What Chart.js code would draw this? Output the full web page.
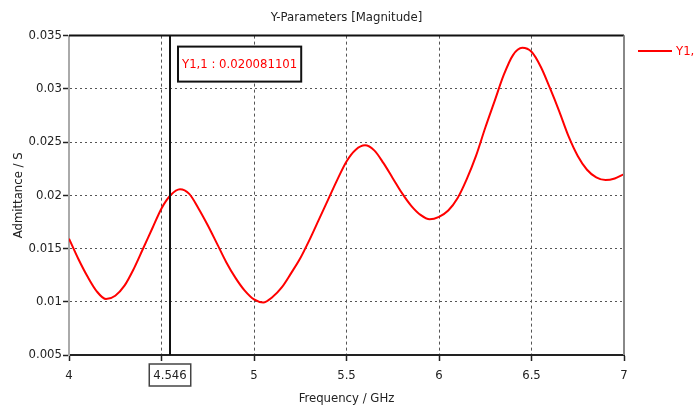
<!DOCTYPE html>
<html>
<head>
<meta charset="utf-8">
<script src="https://cdn.jsdelivr.net/npm/chart.js@4"></script>
<style>
  html, body { margin: 0; padding: 0; background: #fff; }
  #wrap { width: 694px; height: 412px; }
</style>
</head>
<body>
<div id="wrap"><canvas id="chart"></canvas></div>
<script>
// frequency points (GHz), one every 0.05 GHz
const freqGHz = [
  4.00, 4.05, 4.10, 4.15, 4.20, 4.25, 4.30, 4.35, 4.40, 4.45,
  4.50, 4.55, 4.60, 4.65, 4.70, 4.75, 4.80, 4.85, 4.90, 4.95,
  5.00, 5.05, 5.10, 5.15, 5.20, 5.25, 5.30, 5.35, 5.40, 5.45,
  5.50, 5.55, 5.60, 5.65, 5.70, 5.75, 5.80, 5.85, 5.90, 5.95,
  6.00, 6.05, 6.10, 6.15, 6.20, 6.25, 6.30, 6.35, 6.40, 6.45,
  6.50, 6.55, 6.60, 6.65, 6.70, 6.75, 6.80, 6.85, 6.90, 6.95, 7.00
];
// |Y1,1| in S
const y11 = [
  0.01593, 0.01404, 0.01237, 0.01098, 0.01025, 0.01057, 0.01151, 0.01309, 0.01498, 0.01688,
  0.01877, 0.02003, 0.02057, 0.02013, 0.01877, 0.01719, 0.01546, 0.01372, 0.01224, 0.01104,
  0.01022, 0.00994, 0.01045, 0.01135, 0.01267, 0.01408, 0.01581, 0.01769, 0.01957, 0.02145,
  0.02318, 0.02428, 0.02469, 0.02422, 0.02302, 0.02161, 0.02020, 0.01901, 0.01816, 0.01775,
  0.01798, 0.01857, 0.01972, 0.02152, 0.02370, 0.02634, 0.02882, 0.03130, 0.03317, 0.03385,
  0.03348, 0.03208, 0.03006, 0.02789, 0.02556, 0.02370, 0.02240, 0.02168, 0.02143, 0.02158, 0.02199
];
const xTicks = [4, 4.5, 5, 5.5, 6, 6.5, 7];
const yTicks = [0.005, 0.01, 0.015, 0.02, 0.025, 0.03, 0.035];
const markerFreq = 4.546;
const markerValue = '0.020081101';
const seriesName = 'Y1,1';

const FONT = '"DejaVu Sans Condensed", "Liberation Sans Narrow", sans-serif';
const FS = 13;

// extra drawing: frame, marker, marker labels, legend
const extras = {
  id: 'extras',
  afterDatasetsDraw(chart) {
    const { ctx, chartArea: a, scales: { x } } = chart;
    ctx.save();
    // top + right frame
    ctx.lineWidth = 2;
    ctx.strokeStyle = '#111';
    ctx.beginPath(); ctx.moveTo(a.left, a.top); ctx.lineTo(a.right, a.top); ctx.stroke();
    ctx.strokeStyle = '#888';
    ctx.beginPath(); ctx.moveTo(a.right, a.top); ctx.lineTo(a.right, a.bottom); ctx.stroke();

    // marker line
    const mx = Math.round(x.getPixelForValue(markerFreq));
    ctx.strokeStyle = '#111';
    ctx.beginPath(); ctx.moveTo(mx, a.top); ctx.lineTo(mx, a.bottom); ctx.stroke();

    // marker value box
    ctx.font = FS + 'px ' + FONT;
    const txt = seriesName + ' : ' + markerValue;
    const tw = ctx.measureText(txt).width;
    const bx = mx + 8, by = a.top + 11, bw = tw + 8, bh = 35;
    ctx.fillStyle = '#fff';
    ctx.fillRect(bx, by, bw, bh);
    ctx.strokeStyle = '#111';
    ctx.lineWidth = 2;
    ctx.strokeRect(bx, by, bw, bh);
    ctx.fillStyle = '#ff0000';
    ctx.textBaseline = 'middle';
    ctx.textAlign = 'left';
    ctx.fillText(txt, bx + 4, by + bh / 2 + 1);

    // marker frequency box under the axis
    const ftxt = String(markerFreq);
    const fw = ctx.measureText(ftxt).width;
    ctx.fillStyle = '#fff';
    ctx.fillRect(mx - fw / 2 - 4, a.bottom + 9, fw + 8, 22);
    ctx.strokeStyle = '#444';
    ctx.lineWidth = 1.5;
    ctx.strokeRect(mx - fw / 2 - 4, a.bottom + 9, fw + 8, 22);
    ctx.fillStyle = '#222';
    ctx.textAlign = 'center';
    ctx.fillText(ftxt, mx, a.bottom + 21);

    // legend
    ctx.strokeStyle = '#ff0000';
    ctx.lineWidth = 2;
    ctx.beginPath(); ctx.moveTo(638, 51); ctx.lineTo(672, 51); ctx.stroke();
    ctx.fillStyle = '#ff0000';
    ctx.textAlign = 'left';
    ctx.fillText(seriesName, 676, 52);
    ctx.restore();
  }
};

new Chart(document.getElementById('chart'), {
  type: 'line',
  data: {
    datasets: [{
      label: seriesName,
      data: freqGHz.map((f, i) => ({ x: f, y: y11[i] })),
      borderColor: '#ff0000',
      borderWidth: 2,
      pointRadius: 0,
      cubicInterpolationMode: 'monotone',
      fill: false
    }]
  },
  options: {
    responsive: true,
    maintainAspectRatio: false,
    animation: false,
    layout: { padding: { left: 0, right: 70, top: 0, bottom: 0 } },
    plugins: {
      legend: { display: false },
      tooltip: { enabled: false },
      title: {
        display: true,
        text: 'Y-Parameters [Magnitude]',
        fullSize: false,
        color: '#222',
        font: { family: FONT, size: FS, weight: 'normal' },
        padding: { top: 10, bottom: 10 }
      }
    },
    scales: {
      x: {
        type: 'linear',
        min: 4,
        max: 7,
        afterFit: (s) => { s.height = 57; },
        afterBuildTicks: (s) => { s.ticks = xTicks.map(v => ({ value: v })); },
        ticks: {
          color: '#222',
          font: { family: FONT, size: FS },
          padding: 7,
          maxRotation: 0,
          callback: (v) => (v === 4.5 ? '' : String(v))
        },
        grid: { color: '#555', lineWidth: 1, tickLength: 6, tickColor: '#222', tickWidth: 1.5, borderDash: [3, 3] },
        border: { color: '#222', width: 2, dash: [3, 3] },
        title: {
          display: true,
          text: 'Frequency / GHz',
          color: '#222',
          font: { family: FONT, size: FS },
          padding: { top: 0, bottom: 6 }
        }
      },
      y: {
        min: 0.005,
        max: 0.035,
        afterFit: (s) => { s.width = 69; },
        afterBuildTicks: (s) => { s.ticks = yTicks.map(v => ({ value: v })); },
        ticks: {
          color: '#222',
          font: { family: FONT, size: FS },
          padding: 1,
          callback: (v) => String(parseFloat(v.toFixed(3)))
        },
        grid: { color: '#555', lineWidth: 1, tickLength: 6, tickColor: '#222', tickWidth: 1.5, borderDash: [2, 3] },
        border: { color: '#aaa', width: 2, dash: [2, 3] },
        title: {
          display: true,
          text: 'Admittance / S',
          color: '#222',
          font: { family: FONT, size: FS },
          padding: { top: 11, bottom: 0 }
        }
      }
    }
  },
  plugins: [extras]
});
</script>
</body>
</html>
